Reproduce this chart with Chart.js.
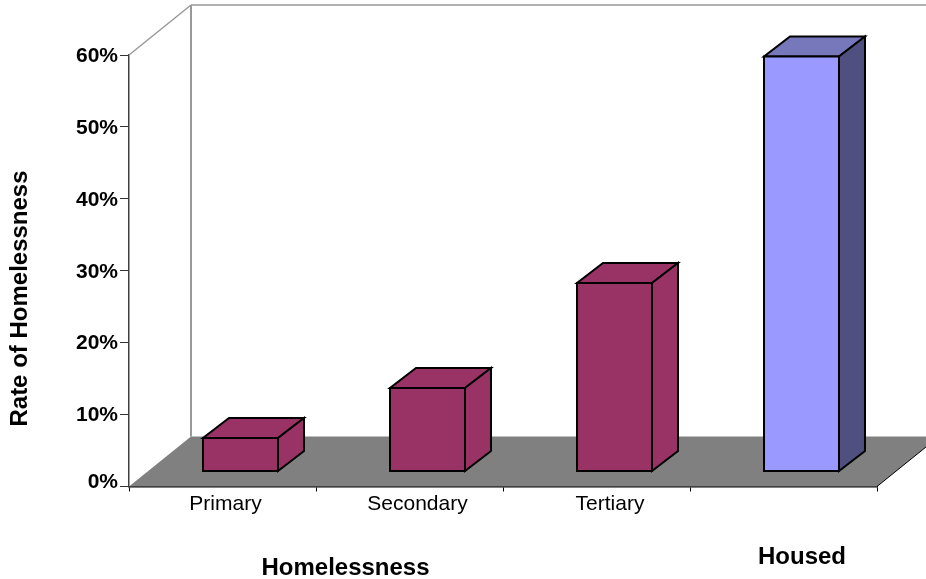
<!DOCTYPE html>
<html lang="en">
<head>
<meta charset="UTF-8">
<title>Rate of Homelessness</title>
<script src="https://cdn.jsdelivr.net/npm/chart.js"></script>
<style>
    html, body { margin: 0; padding: 0; background: #fff; }
    canvas { display: block; }
</style>
</head>
<body>
<canvas id="chart" width="926" height="579"></canvas>
<script>
// values
const categories = ['Primary', 'Secondary', 'Tertiary', ''];
const rates = [4.65, 11.6, 26.2, 57.7];
const yTicks = [0, 10, 20, 30, 40, 50, 60];

const FONT = '"Liberation Sans", Arial, sans-serif';
const FLOOR_DEPTH = { x: 62, y: -50 };
const BAR_DEPTH = { x: 26, y: -20 };
const BAR_SHIFT = { x: 18, y: -15 };   // bars stand in the middle of the floor
const LABEL_NUDGE = [3, 8, 13.5, 0];   // category labels drift right of their slots

const maroon = { front: '#993366', top: '#993366', side: '#993366' };
const blue = { front: '#9999ff', top: '#7777bb', side: '#4f4f80' };
const barColors = [maroon, maroon, maroon, blue];

function poly(ctx, pts, fill, stroke, lw) {
    ctx.beginPath();
    pts.forEach((p, i) => i ? ctx.lineTo(p[0], p[1]) : ctx.moveTo(p[0], p[1]));
    ctx.closePath();
    if (fill) { ctx.fillStyle = fill; ctx.fill(); }
    if (stroke) { ctx.strokeStyle = stroke; ctx.lineWidth = lw; ctx.lineJoin = 'miter'; ctx.stroke(); }
}

function line(ctx, x1, y1, x2, y2, color, lw) {
    ctx.beginPath();
    ctx.moveTo(x1, y1);
    ctx.lineTo(x2, y2);
    ctx.strokeStyle = color;
    ctx.lineWidth = lw;
    ctx.stroke();
}

// floor and back walls, drawn behind the bars
const roomPlugin = {
    id: 'room',
    beforeDatasetsDraw(chart) {
        const { ctx, chartArea: a } = chart;
        const dx = FLOOR_DEPTH.x, dy = FLOOR_DEPTH.y;
        ctx.save();
        line(ctx, a.left, a.top, a.left + dx, a.top + dy, '#999999', 1.5);
        line(ctx, a.left + dx, a.top + dy, chart.width, a.top + dy, '#999999', 1.5);
        line(ctx, a.left + dx, a.top + dy, a.left + dx, a.bottom + dy, '#999999', 2);
        poly(ctx, [[a.left, a.bottom], [a.left + dx, a.bottom + dy], [a.right + dx, a.bottom + dy], [a.right, a.bottom]], '#808080');
        line(ctx, a.right, a.bottom, a.right + dx, a.bottom + dy, '#000000', 1);
        ctx.restore();
    }
};

// the datasets are transparent, this draws each bar as a box from its element
const boxPlugin = {
    id: 'box',
    afterDatasetsDraw(chart) {
        const { ctx } = chart;
        const bars = chart.getDatasetMeta(0).data;
        ctx.save();
        bars.forEach((bar, i) => {
            const c = barColors[i];
            const l = bar.x - bar.width / 2 + BAR_SHIFT.x;
            const r = bar.x + bar.width / 2 + BAR_SHIFT.x;
            const t = bar.y + BAR_SHIFT.y;
            const b = bar.base + BAR_SHIFT.y;
            const dx = BAR_DEPTH.x, dy = BAR_DEPTH.y;
            poly(ctx, [[l, t], [r, t], [r + dx, t + dy], [l + dx, t + dy]], c.top, '#000000', 2);
            poly(ctx, [[r, t], [r + dx, t + dy], [r + dx, b + dy], [r, b]], c.side, '#000000', 2);
            poly(ctx, [[l, t], [r, t], [r, b], [l, b]], c.front, '#000000', 2);
        });
        ctx.restore();
    }
};

// category labels and axis captions do not sit where Chart.js would centre them
const captionPlugin = {
    id: 'captions',
    afterDraw(chart) {
        const { ctx, scales } = chart;
        ctx.save();
        ctx.fillStyle = '#000000';
        ctx.textAlign = 'center';
        ctx.textBaseline = 'middle';
        ctx.font = '21px ' + FONT;
        categories.forEach((name, i) => {
            ctx.fillText(name, scales.x.getPixelForValue(i) + LABEL_NUDGE[i], 504);
        });
        ctx.font = 'bold 24px ' + FONT;
        ctx.fillText('Homelessness', 345.5, 568);
        ctx.fillText('Housed', 802, 557);
        ctx.translate(20, 298.5);
        ctx.rotate(-Math.PI / 2);
        ctx.fillText('Rate of Homelessness', 0, 0);
        ctx.restore();
    }
};

new Chart(document.getElementById('chart'), {
    type: 'bar',
    data: {
        labels: categories,
        datasets: [{
            data: rates,
            backgroundColor: 'rgba(0,0,0,0)',
            borderWidth: 0,
            barPercentage: 0.5,
            categoryPercentage: 0.802
        }]
    },
    options: {
        responsive: false,
        animation: false,
        layout: { padding: { top: 55, right: 49, left: 0, bottom: 0 } },
        plugins: { legend: { display: false }, tooltip: { enabled: false } },
        scales: {
            x: {
                grid: { drawOnChartArea: false, tickLength: 5, color: '#000000', lineWidth: 1 },
                border: { color: '#000000', width: 1.5 },
                ticks: { display: false },
                afterFit(scale) { scale.height = 92.5; }
            },
            y: {
                min: 0,
                max: 60,
                afterBuildTicks(scale) { scale.ticks = yTicks.map(v => ({ value: v })); },
                grid: { drawOnChartArea: false, tickLength: 9, color: '#333333', lineWidth: 1 },
                border: { color: '#404040', width: 1.5 },
                ticks: {
                    color: '#000000',
                    padding: 2,
                    // blank lines move a label: one px down for most, the 0% label sits above its tick
                    callback: v => v === 0 ? ['0%', ' '] : [' ', v + '%'],
                    font: ctx => ({
                        family: FONT,
                        size: 21,
                        weight: 'bold',
                        lineHeight: ctx.tick && ctx.tick.value === 0 ? '8px' : '2px'
                    })
                },
                afterFit(scale) { scale.width = 129; }
            }
        }
    },
    plugins: [roomPlugin, boxPlugin, captionPlugin]
});
</script>
</body>
</html>
